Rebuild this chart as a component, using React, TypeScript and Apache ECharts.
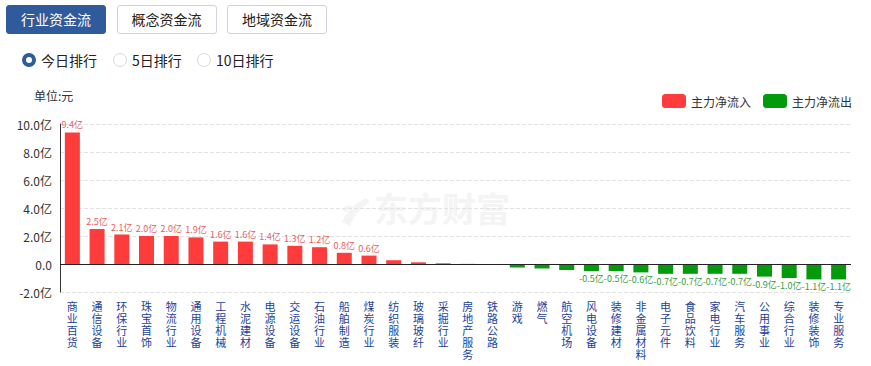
import React, { useEffect, useRef } from "react";
import * as echarts from "echarts";

const categories = [
  "商业百货", "通信设备", "环保行业", "珠宝首饰", "物流行业", "通用设备", "工程机械", "水泥建材",
  "电源设备", "交运设备", "石油行业", "船舶制造", "煤炭行业", "纺织服装", "玻璃玻纤", "采掘行业",
  "房地产服务", "铁路公路", "游戏", "燃气", "航空机场", "风电设备", "装修建材", "非金属材料",
  "电子元件", "食品饮料", "家电行业", "汽车服务", "公用事业", "综合行业", "装修装饰", "专业服务",
];
// 亿元
const netFlow = [
  9.4, 2.5, 2.1, 2.0, 2.0, 1.9, 1.6, 1.6,
  1.4, 1.3, 1.2, 0.8, 0.6, 0.27, 0.12, 0.05,
  0.01, -0.03, -0.25, -0.32, -0.43, -0.5, -0.5, -0.6,
  -0.7, -0.7, -0.7, -0.7, -0.9, -1.0, -1.1, -1.1,
];
const yTicks = [-2, 0, 2, 4, 6, 8, 10];
const tabs = ["行业资金流", "概念资金流", "地域资金流"];
const ranks = ["今日排行", "5日排行", "10日排行"];
const legendNames = ["主力净流入", "主力净流出"];

const RED = "#ff3c3c";
const GREEN = "#039a0c";
const FONT = "'Noto Sans CJK SC', 'Noto Sans', sans-serif";

const LOGO_D =
  "M2 26 C 6 16, 14 8, 26 2 L 30 6 C 20 12, 14 20, 10 30 Z M 12 10 C 8 8, 4 10, 2 14 L 6 16 C 8 13, 10 12, 13 13 Z";
echarts.graphic.registerShape("wmLogo2", echarts.graphic.extendPath(LOGO_D, {}) as any);

export default function App() {
  const ref = useRef<HTMLDivElement>(null);
  useEffect(() => {
    if (!ref.current) return;
    const chart = echarts.init(ref.current, null, { renderer: "svg" });
    const inflow = netFlow.map((v) => (v >= 0 ? v : "-"));
    const outflow = netFlow.map((v) => (v < 0 ? v : "-"));
    const labelFmt = (p: any) => {
      const v = Number(p.value);
      if (Math.abs(v) < 0.5) return "";
      return v.toFixed(1) + "亿";
    };
    chart.setOption({
      animation: false,
      textStyle: { fontFamily: FONT },
      legend: {
        data: [
          { name: legendNames[0], itemStyle: { color: RED } },
          { name: legendNames[1], itemStyle: { color: GREEN } },
        ],
        right: 14,
        top: 89,
        itemWidth: 24,
        itemHeight: 14,
        itemGap: 12,
        icon: "roundRect",
        textStyle: { fontSize: 12, color: "#333", fontFamily: FONT },
      },
      graphic: [
        {
          type: "text",
          left: 34,
          top: 89,
          style: { text: "单位:元", fontSize: 12, fill: "#333", fontFamily: FONT },
        },
        {
          type: "text",
          left: 374,
          top: 190,
          z: -10,
          style: {
            text: "东方财富",
            fontSize: 34,
            fontWeight: "bold",
            fill: "#f4f4f4",
            fontFamily: FONT,
          },
        },
        {
          type: "wmLogo2",
          x: 340,
          y: 196,
          scaleX: 1,
          scaleY: 1,
          z: -10,
          style: { fill: "#f4f4f4" },
        },
      ],
      grid: { left: 60, right: 20, top: 124, bottom: 74 },
      xAxis: {
        type: "category",
        data: categories,
        axisLine: { show: false, onZero: false },
        axisTick: { show: false },
        axisLabel: {
          interval: 0,
          margin: 8,
          color: "#1d3f99",
          fontSize: 11,
          lineHeight: 12,
          fontFamily: FONT,
          formatter: (v: string) => v.split("").join("\n"),
        },
      },
      yAxis: {
        type: "value",
        min: yTicks[0],
        max: yTicks[yTicks.length - 1],
        interval: 2,
        axisLine: { show: true, lineStyle: { color: "#333" } },
        axisTick: { show: false },
        axisLabel: {
          color: "#333",
          fontSize: 12,
          margin: 8,
          fontFamily: FONT,
          formatter: (v: number) => (v === 0 ? "0.0" : v.toFixed(1) + "亿"),
        },
        splitLine: { show: true, lineStyle: { color: "#e3e3e3", type: "dashed" } },
      },
      series: [
        {
          name: legendNames[0],
          type: "bar",
          stack: "flow",
          data: inflow,
          barWidth: 15,
          itemStyle: { color: RED },
          label: {
            show: true,
            position: "top",
            distance: 3,
            fontSize: 9,
            color: "#e86060",
            formatter: labelFmt,
          },
          markLine: {
            silent: true,
            symbol: "none",
            label: { show: false },
            lineStyle: { color: "#222", type: "solid", width: 1 },
            data: [{ yAxis: 0 }],
          },
        },
        {
          name: legendNames[1],
          type: "bar",
          stack: "flow",
          data: outflow,
          barWidth: 15,
          itemStyle: { color: GREEN },
          label: {
            show: true,
            position: "bottom",
            distance: 3,
            fontSize: 9,
            color: "#3b9b3b",
            formatter: labelFmt,
          },
        },
      ],
    });
    return () => chart.dispose();
  }, []);

  return (
    <div style={{ position: "absolute", left: 0, top: 0, width: 871, height: 366, background: "#fff", fontFamily: FONT }}>
      <div ref={ref} style={{ position: "absolute", left: 0, top: 0, width: 871, height: 366 }} />
      {tabs.map((t, i) => (
        <div
          key={t}
          style={{
            position: "absolute",
            left: 6 + i * 110.5,
            top: 5,
            width: 100,
            height: 29,
            boxSizing: "border-box",
            borderRadius: 3,
            border: i === 0 ? "1px solid #2f5b9c" : "1px solid #cfd3da",
            background: i === 0 ? "#2f5b9c" : "#fff",
            color: i === 0 ? "#fff" : "#222",
            fontSize: 14,
            lineHeight: "27px",
            textAlign: "center",
          }}
        >
          {t}
        </div>
      ))}
      {ranks.map((r, i) => {
        const left = [22, 113, 197][i];
        return (
          <div key={r} style={{ position: "absolute", left, top: 50, height: 20, display: "flex", alignItems: "center" }}>
            <div
              style={{
                width: 14,
                height: 14,
                boxSizing: "border-box",
                borderRadius: "50%",
                border: i === 0 ? "4px solid #2f5b9c" : "1px solid #d4d8de",
                background: "#fff",
                marginRight: 5,
              }}
            />
            <span style={{ fontSize: 14, color: "#222" }}>{r}</span>
          </div>
        );
      })}
    </div>
  );
}
